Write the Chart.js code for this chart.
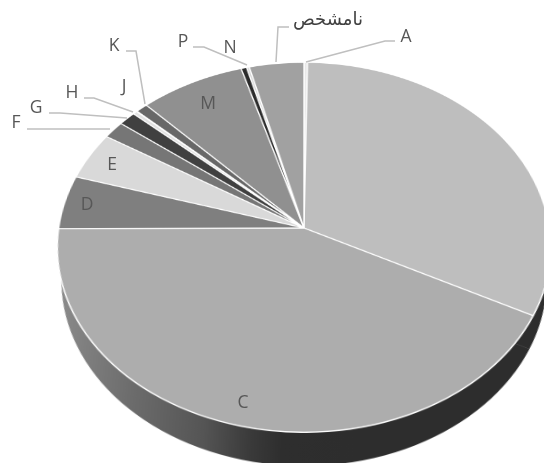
<!DOCTYPE html>
<html lang="en">

<head>
    <meta charset="UTF-8">
    <style>
        body { margin: 0; background: #fff; }
        #stage { position: relative; width: 544px; height: 463px; overflow: hidden; filter: blur(0.4px); }
        .tilt { position: absolute; left: 54px; top: -22px; width: 500px; height: 500px; transform-origin: 250px 250px; }
        #wall { transform: translateY(33px) matrix3d(0.965,0,0,0, 0,0.7336,0,-0.00042, 0,0,1,0, 0,0,0,1); }
        #top { transform: matrix3d(0.984,0,0,0, 0,0.7336,0,-0.00042, 0,0,1,0, 0,0,0,1); }
        #notes { position: absolute; left: 0; top: 0; }
        #notes text { font-family: "Open Sans", sans-serif; font-size: 17.5px; fill: #575757; text-anchor: middle; dominant-baseline: central; }
        #notes text.fa { font-family: "DejaVu Sans", sans-serif; font-size: 18px; fill: #404040; }
        #notes polyline { fill: none; stroke: #bfbfbf; stroke-width: 1.5; }
    </style>
</head>

<body>
    <div id="stage">
        <div class="tilt" id="wall"><canvas id="wallChart" width="500" height="500"></canvas></div>
        <div class="tilt" id="top"><canvas id="topChart" width="500" height="500"></canvas></div>
        <svg id="notes" width="544" height="463"></svg>
    </div>

    <script src="https://cdn.jsdelivr.net/npm/chart.js"></script>

    <script>
        const categories = ['A', 'B', 'C', 'D', 'E', 'F', 'G', 'H', 'J', 'K', 'M', 'N', 'P', 'نامشخص'];
        const shares = [0.25, 32.3, 42.4, 4.7, 4.2, 1.55, 1.25, 0.3, 0.05, 0.85, 7.6, 0.4, 0.2, 3.95];
        const greys = ['#e8e8e8', '#bebebe', '#adadad', '#7f7f7f', '#d9d9d9', '#767676', '#404040', '#e2e2e2', '#cccccc', '#686868', '#909090', '#2b2b2b', '#d6d6d6', '#a1a1a1'];

        // B has no label in the picture
        const labelSpots = {
            'A': [406, 35], 'C': [243, 401], 'D': [87, 203], 'E': [112, 163], 'F': [16, 121], 'G': [36, 106],
            'H': [72, 91], 'J': [124, 85], 'K': [114, 44], 'M': [208, 102], 'N': [230, 46], 'P': [183, 40],
            'نامشخص': [328, 18]
        };
        const leaders = [
            '395,41 385,41 306,62', '289,27 278,27 276,62', '193,47 204,47 247,65', '126,51 136,51 145,104',
            '84,98 94,98 133,112', '49,113 60,113 127,118', '27,129 110,129'
        ];

        const base = { responsive: false, animation: false, events: [], devicePixelRatio: 2,
            plugins: { legend: { display: false }, tooltip: { enabled: false } } };

        const wallCtx = document.getElementById('wallChart').getContext('2d');
        const shade = wallCtx.createLinearGradient(0, 0, 500, 0);
        shade.addColorStop(0, '#8c8c8c');
        shade.addColorStop(0.17, '#6c6c6c');
        shade.addColorStop(0.31, '#555555');
        shade.addColorStop(0.40, '#3a3a3a');
        shade.addColorStop(0.46, '#2e2e2e');
        shade.addColorStop(1, '#2d2d2d');

        new Chart(wallCtx, {
            type: 'pie',
            data: { labels: categories, datasets: [{ data: shares, backgroundColor: shade, borderWidth: 0 }] },
            options: base
        });

        new Chart(document.getElementById('topChart'), {
            type: 'pie',
            data: { labels: categories, datasets: [{ data: shares, backgroundColor: greys, borderColor: '#ffffff', borderWidth: 1.4 }] },
            options: base
        });

        const svg = document.getElementById('notes');
        const ns = 'http://www.w3.org/2000/svg';
        leaders.forEach(pts => {
            const line = document.createElementNS(ns, 'polyline');
            line.setAttribute('points', pts);
            svg.appendChild(line);
        });
        categories.forEach(name => {
            if (!labelSpots[name]) return;
            const t = document.createElementNS(ns, 'text');
            t.setAttribute('x', labelSpots[name][0]);
            t.setAttribute('y', labelSpots[name][1]);
            if (name.length > 1) t.setAttribute('class', 'fa');
            t.textContent = name;
            svg.appendChild(t);
        });
    </script>
</body>

</html>
